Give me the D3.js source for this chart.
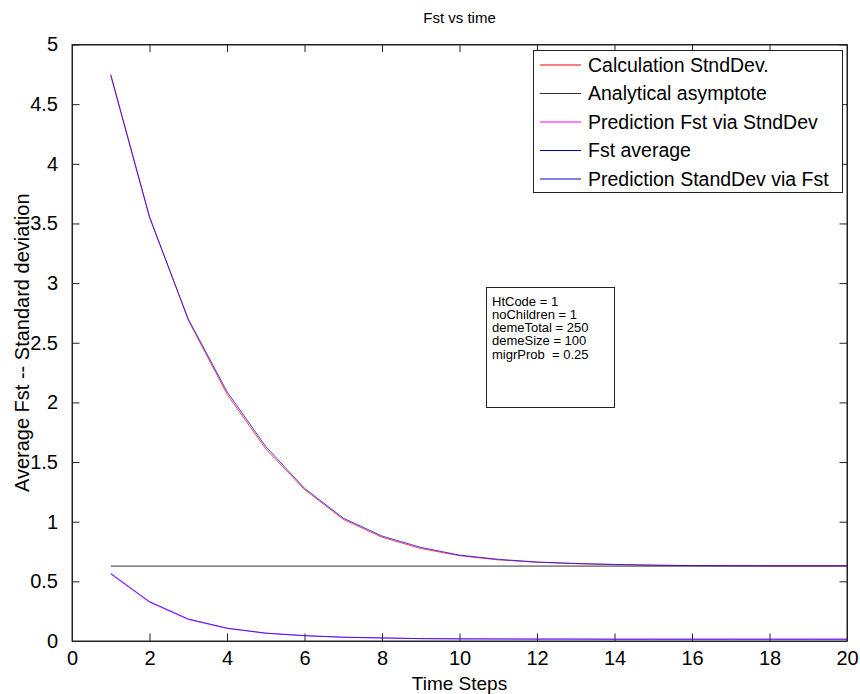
<!DOCTYPE html>
<html>
<head>
<meta charset="utf-8">
<script src="https://cdn.jsdelivr.net/npm/d3@7"></script>
<style>
  html, body { margin: 0; padding: 0; background: #fff; }
  svg { display: block; font-family: "Liberation Sans", Arial, sans-serif; }
</style>
</head>
<body>
<svg id="chart" width="860" height="694"></svg>
<script>
// ---- data ----
const timeSteps = [1,2,3,4,5,6,7,8,9,10,11,12,13,14,15,16,17,18,19,20];
const calcStndDev = [4.75,3.56,2.69,2.07,1.61,1.27,1.02,0.87,0.775,0.715,0.68,0.66,0.648,0.64,0.635,0.632,0.631,0.630,0.630,0.630];
const predStandDevViaFst = [4.74,3.55,2.70,2.09,1.63,1.28,1.03,0.88,0.785,0.72,0.685,0.662,0.65,0.642,0.636,0.632,0.631,0.630,0.630,0.630];
const fstAverage = [0.567,0.33,0.185,0.108,0.066,0.045,0.032,0.026,0.020,0.018,0.017,0.016,0.016,0.015,0.015,0.015,0.015,0.015,0.015,0.015];
const predFstViaStndDev = [0.560,0.325,0.180,0.105,0.065,0.044,0.031,0.025,0.020,0.018,0.017,0.016,0.016,0.015,0.015,0.015,0.015,0.015,0.015,0.015];
const asymptoteValue = 0.628;
const xTicks = [0,2,4,6,8,10,12,14,16,18,20];
const yTicks = [0,0.5,1,1.5,2,2.5,3,3.5,4,4.5,5];
const legendLabels = ["Calculation StndDev.","Analytical asymptote","Prediction Fst via StndDev","Fst average","Prediction StandDev via Fst"];
const legendColors = ["#ff0000","#333333","#ff00ff","#0000cc","#0000cc"];
const infoLines = ["HtCode = 1","noChildren = 1","demeTotal = 250","demeSize = 100","migrProb  = 0.25"];
const titleText = "Fst vs time";
const xLabelText = "Time Steps";
const yLabelText = "Average Fst -- Standard deviation";

// ---- layout ----
const L = 72, R = 847, T = 44.5, B = 641;
const svg = d3.select("#chart");
const x = d3.scaleLinear().domain([0,20]).range([L,R]);
const y = d3.scaleLinear().domain([0,5]).range([B,T]);

// frame
svg.append("rect").attr("x",L).attr("y",T).attr("width",R-L).attr("height",B-T)
  .attr("fill","#fff").attr("stroke","#222").attr("stroke-width",1);

const tl = 7.5;
// axes with inward ticks
const gx = svg.append("g").attr("transform",`translate(0,${B})`)
  .call(d3.axisBottom(x).tickValues(xTicks).tickFormat(d3.format("d")).tickSizeInner(-tl).tickSizeOuter(0).tickPadding(10));
const gxt = svg.append("g").attr("transform",`translate(0,${T})`)
  .call(d3.axisTop(x).tickValues(xTicks).tickFormat("").tickSizeInner(-tl).tickSizeOuter(0));
const gy = svg.append("g").attr("transform",`translate(${L},0)`)
  .call(d3.axisLeft(y).tickValues(yTicks).tickFormat(d => d3.format("")(d)).tickSizeInner(-tl).tickSizeOuter(0).tickPadding(14));
const gyr = svg.append("g").attr("transform",`translate(${R},0)`)
  .call(d3.axisRight(y).tickValues(yTicks).tickFormat("").tickSizeInner(-tl).tickSizeOuter(0));
[gx,gxt,gy,gyr].forEach(g => {
  g.select(".domain").attr("stroke","#222");
  g.selectAll(".tick line").attr("stroke","#222");
  g.selectAll(".tick text").attr("fill","#000").style("font-size","20px")
   .style("font-family","'Liberation Sans', Arial, sans-serif");
});

// lines
const line = d3.line().x((d,i) => x(timeSteps[i])).y(d => y(d));
const series = [
  {vals: calcStndDev, color: "#ff0000"},
  {vals: predFstViaStndDev, color: "#ff00ff"},
  {vals: predStandDevViaFst, color: "#0000ff"},
  {vals: fstAverage, color: "#0000ff"}
];
// asymptote
svg.append("line").attr("x1",x(timeSteps[0])).attr("x2",x(timeSteps[timeSteps.length-1]))
  .attr("y1",y(asymptoteValue)).attr("y2",y(asymptoteValue))
  .attr("stroke","#333").attr("stroke-width",1);
series.forEach(s => {
  svg.append("path").datum(s.vals).attr("d",line).attr("fill","none")
    .attr("stroke",s.color).attr("stroke-width",1).attr("stroke-opacity",0.75);
});

// title & labels
svg.append("text").attr("x",(L+R)/2).attr("y",23).attr("text-anchor","middle")
  .style("font-size","15px").text(titleText);
svg.append("text").attr("x",(L+R)/2).attr("y",690).attr("text-anchor","middle")
  .style("font-size","19px").text(xLabelText);
svg.append("text").attr("transform",`translate(29,${(T+B)/2}) rotate(-90)`).attr("text-anchor","middle")
  .style("font-size","20px").text(yLabelText);

// legend
const lg = svg.append("g");
lg.append("rect").attr("x",533.5).attr("y",50.5).attr("width",309).attr("height",142)
  .attr("fill","#fff").attr("stroke","#222").attr("stroke-width",1);
legendLabels.forEach((lab,i) => {
  const cy = 65 + i*28.5;
  lg.append("line").attr("x1",540).attr("x2",581).attr("y1",cy).attr("y2",cy)
    .attr("stroke",legendColors[i]).attr("stroke-width",1);
  lg.append("text").attr("x",588).attr("y",cy).attr("dy","0.35em")
    .style("font-size","19.5px").text(lab);
});

// info box
const ib = svg.append("g");
ib.append("rect").attr("x",486.5).attr("y",287.5).attr("width",128).attr("height",120)
  .attr("fill","#fff").attr("stroke","#222").attr("stroke-width",1);
infoLines.forEach((t,i) => {
  ib.append("text").attr("x",492).attr("y",301 + i*13.3).attr("dy","0.35em")
    .style("font-size","13px").style("white-space","pre").attr("xml:space","preserve").text(t);
});
</script>
</body>
</html>
